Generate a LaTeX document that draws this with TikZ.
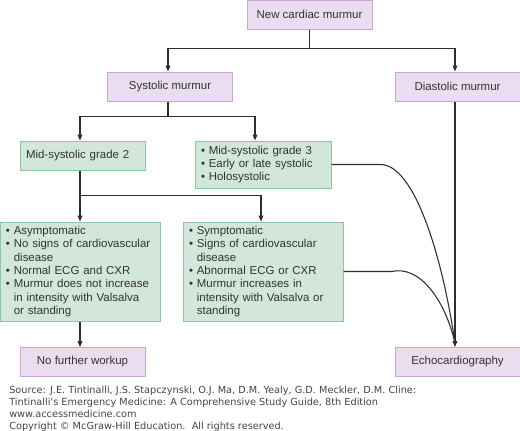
\documentclass[tikz,border=0pt]{standalone}
\usepackage{fontspec}
\setmainfont{Liberation Sans}
\newfontfamily\srcfont{DejaVu Sans}
\usetikzlibrary{positioning,arrows.meta,calc}
\definecolor{figPurple}{HTML}{EADDEF}
\definecolor{figPurpleLine}{HTML}{CBA5D9}
\definecolor{figGreen}{HTML}{D3E6DA}
\definecolor{figGreenLine}{HTML}{8DC6A4}
\definecolor{figLine}{HTML}{2E2E2E}
\definecolor{figText}{HTML}{333333}
\definecolor{figSrc}{HTML}{444444}
\newcommand{\bul}{\textbullet\ }
\newcommand{\ind}{\hphantom{\textbullet\ }}

\begin{document}
\begin{tikzpicture}[
  x=0.75pt, y=-0.75pt,
  every node/.style={font=\fontsize{8.6}{10}\selectfont, text=figText},
  box/.style={draw, line width=0.75pt, inner xsep=4.5pt, inner ysep=0pt,
    minimum height=21.75pt},
  pbox/.style={box, fill=figPurple, draw=figPurpleLine,
    minimum width=93.75pt, align=center},
  gbox/.style={box, fill=figGreen, draw=figGreenLine, align=left},
  arr/.style={-{Triangle[length=4.5pt,width=3.6pt]}, line width=0.8pt, figLine},
  ln/.style={line width=0.8pt, figLine},
]
\useasboundingbox (0,0) rectangle (520,430);

% Top level
\node[pbox] (new) at (309.5,14.5) {New cardiac murmur};
\node[pbox] (sys) at (170,86.5) {Systolic murmur};
\node[pbox] (dia) at (457.5,86.5) {Diastolic murmur};

% Systolic types
\node[gbox, minimum width=93.75pt, text width=84.75pt] (g2) at (82.5,155.5)
  {Mid-systolic grade 2};
\node[gbox, minimum width=102pt, minimum height=35.25pt, text width=93pt] (g3) at (263,164.5)
  {\bul Mid-systolic grade 3\\ \bul Early or late systolic\\ \bul Holosystolic};

% Findings
\node[gbox, minimum width=120pt, minimum height=74.25pt, text width=111pt] (asym) at (80,271.5)
  {\bul Asymptomatic\\ \bul No signs of cardiovascular\\ \ind disease\\
   \bul Normal ECG and CXR\\ \bul Murmur does not increase\\
   \ind in intensity with Valsalva\\ \ind or standing};
\node[gbox, minimum width=120pt, minimum height=74.25pt, text width=111pt] (symp) at (263,271.5)
  {\bul Symptomatic\\ \bul Signs of cardiovascular\\ \ind disease\\
   \bul Abnormal ECG or CXR\\ \bul Murmur increases in\\
   \ind intensity with Valsalva or\\ \ind standing};

% Outcomes
\node[pbox] (nowork) at (82.5,362) {No further workup};
\node[pbox] (echo) at (457.5,362) {Echocardiography};

% Arrows
\draw[arr] (new.south) -- ++(0,19) -| ([xshift=-1.5pt]sys.north);
\draw[arr] (new.south) -- ++(0,19) -| ([xshift=-1.9pt]dia.north);
\draw[arr] ([xshift=-1.5pt]sys.south) -- ++(0,15) -| ([xshift=-1.9pt]g2.north);
\draw[arr] ([xshift=-1.5pt]sys.south) -- ++(0,15) -| ([xshift=-6pt]g3.north);
\draw[arr] ([xshift=-1.9pt]g2.south) -- ++(0,25) -| (asym.north);
\draw[arr] ([xshift=-1.9pt]g2.south) -- ++(0,25) -| ([xshift=-1.5pt]symp.north);
\draw[arr] (asym.south) -- (asym.south |- nowork.north);
\draw[arr] ([xshift=-1.9pt]dia.south) -- ([xshift=-1.9pt]echo.north);

% Curves into echocardiography
\draw[ln] (g3.east) -- ++(48,0) .. controls (415,163) and (443,260)
  .. ([xshift=-1.9pt,yshift=3pt]echo.north);
\draw[ln] (symp.east) -- ++(48,0) .. controls (420,265) and (445,300)
  .. ([xshift=-1.9pt,yshift=3pt]echo.north);

% Source
\node[font=\srcfont\fontsize{7.3}{9}\selectfont, text=figSrc, align=left,
  anchor=north west, inner sep=0pt] (src) at (9,386)
  {Source: J.E. Tintinalli, J.S. Stapczynski, O.J. Ma, D.M. Yealy, G.D. Meckler, D.M. Cline:\\
   Tintinalli's Emergency Medicine: A Comprehensive Study Guide, 8th Edition\\
   www.accessmedicine.com\\
   Copyright \textcopyright{} McGraw-Hill Education.\ \ All rights reserved.};

\end{tikzpicture}
\end{document}
